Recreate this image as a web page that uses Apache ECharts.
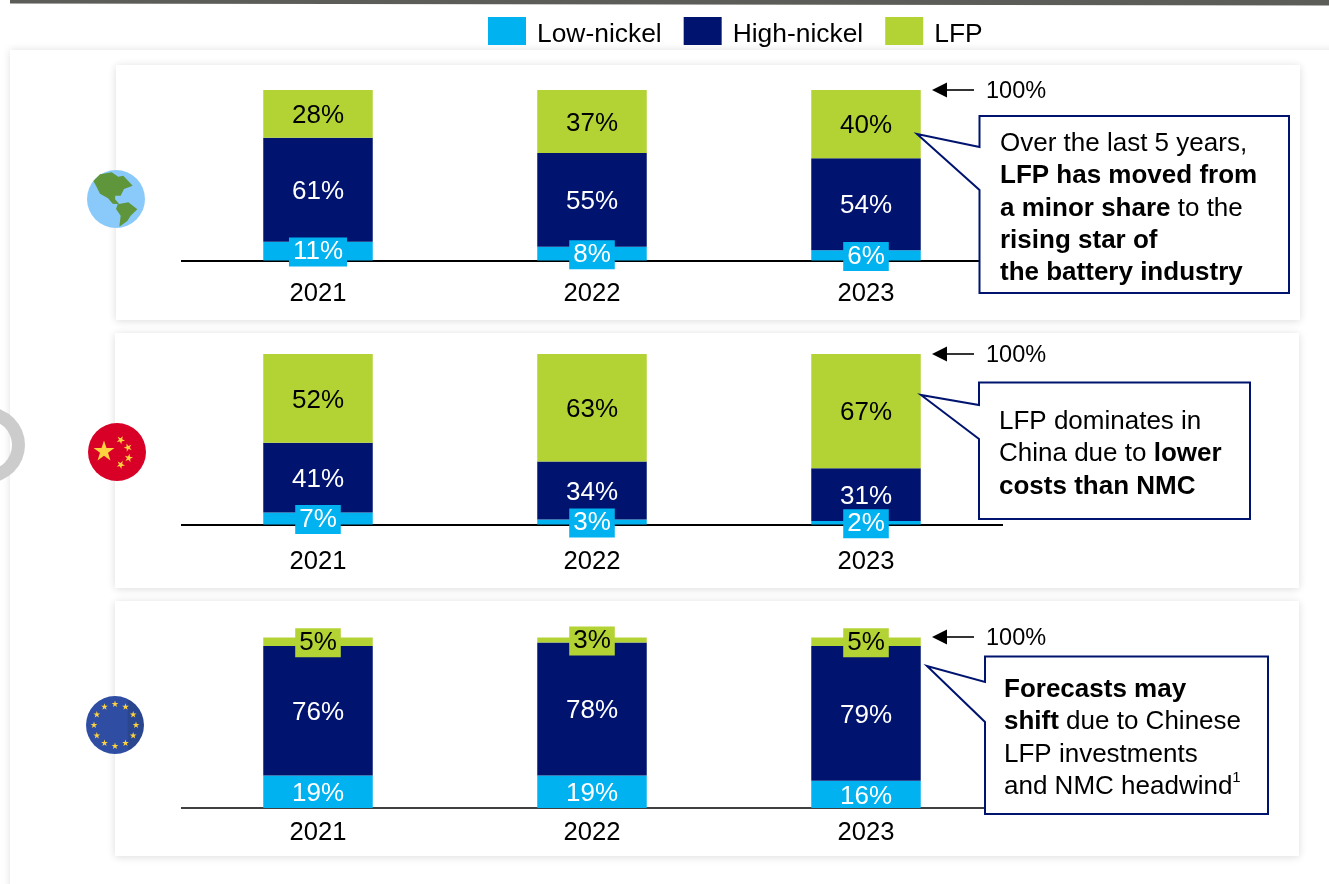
<!DOCTYPE html>
<html>
<head>
<meta charset="utf-8">
<style>html,body{margin:0;padding:0;background:#fff}#chart{width:1329px;height:884px}</style>
<script src="https://cdn.jsdelivr.net/npm/echarts@6/dist/echarts.min.js"></script>
</head>
<body>
<div id="chart"></div>
<script>
const years = ['2021', '2022', '2023'];
const seriesNames = ['Low-nickel', 'High-nickel', 'LFP'];
const worldLow = [11, 8, 6];
const worldHigh = [61, 55, 54];
const worldLfp = [28, 37, 40];
const chinaLow = [7, 3, 2];
const chinaHigh = [41, 34, 31];
const chinaLfp = [52, 63, 67];
const europeLow = [19, 19, 16];
const europeHigh = [76, 78, 79];
const europeLfp = [5, 3, 5];
const totalLabel = '100%';
const noteWorld = 'Over the last 5 years,\n{b|LFP has moved from}\n{b|a minor share} to the\n{b|rising star of}\n{b|the battery industry}';
const noteChina = 'LFP dominates in\nChina due to {b|lower}\n{b|costs than NMC}';
const noteEurope = '{b|Forecasts may}\n{b|shift} due to Chinese\nLFP investments\nand NMC headwind{s|1}';

const FONT = '"Liberation Sans", Arial, sans-serif';
const CYAN = '#00B2F0', NAVY = '#00146F', GREEN = '#B3D335';
const colors = [CYAN, NAVY, GREEN];
const textColors = ['#fff', '#fff', '#000'];

const groups = [
  { low: worldLow, high: worldHigh, lfp: worldLfp, top: 90, margin: 20, lw: 2 },
  { low: chinaLow, high: chinaHigh, lfp: chinaLfp, top: 354, margin: 24, lw: 2 },
  { low: europeLow, high: europeHigh, lfp: europeLfp, top: 637.5, margin: 12, lw: 1.5 }
];
const H = 170.5;

const grid = [], xAxis = [], yAxis = [], series = [];
groups.forEach((g, i) => {
  grid.push({ left: 181, width: 822, top: g.top, height: H });
  xAxis.push({
    gridIndex: i, type: 'category', data: years,
    axisTick: { show: false },
    axisLine: { show: true, onZero: false, lineStyle: { color: '#000', width: g.lw, cap: 'butt' } },
    axisLabel: { color: '#000', fontSize: 25.6, fontFamily: FONT, margin: g.margin }
  });
  yAxis.push({ gridIndex: i, type: 'value', min: 0, max: 100, show: false, splitLine: { show: false } });
  [g.low, g.high, g.lfp].forEach((vals, k) => {
    series.push({
      name: seriesNames[k], type: 'bar', stack: 'g' + i, xAxisIndex: i, yAxisIndex: i,
      barWidth: 109.5, itemStyle: { color: colors[k] }, z: 3,
      data: vals.map(v => ({
        value: v,
        label: v <= 11
          ? { backgroundColor: colors[k], padding: [3, 4, 0, 4], lineHeight: 26, offset: [0, 1] }
          : { offset: [0, 2] }
      })),
      label: {
        show: true, position: 'inside', formatter: '{c}%', color: textColors[k],
        fontSize: 26, fontFamily: FONT
      }
    });
  });
});

function starPts(cx, cy, R, rot) {
  const pts = [];
  for (let i = 0; i < 10; i++) {
    const r = i % 2 ? R * 0.382 : R;
    const a = -Math.PI / 2 + (rot || 0) + i * Math.PI / 5;
    pts.push([cx + r * Math.cos(a), cy + r * Math.sin(a)]);
  }
  return pts;
}
function star(cx, cy, R, rot) {
  return { type: 'polygon', z: 6, shape: { points: starPts(cx, cy, R, rot) }, style: { fill: '#FFD23F' }, silent: true };
}
function panel(x, y, w, h) {
  return { type: 'rect', z: -5, shape: { x, y, width: w, height: h },
    style: { fill: '#fff', shadowBlur: 8, shadowColor: 'rgba(0,0,0,0.14)', shadowOffsetX: 0, shadowOffsetY: 1 }, silent: true };
}
function arrow(y) {
  return [
    { type: 'line', z: 5, shape: { x1: 945, y1: y, x2: 974, y2: y }, style: { stroke: '#000', lineWidth: 1.6 }, silent: true },
    { type: 'polygon', z: 5, shape: { points: [[932, y], [947, y - 7.5], [947, y + 7.5]] }, style: { fill: '#000' }, silent: true },
    { type: 'text', z: 5, x: 986, y: y + 2, style: { text: totalLabel, fill: '#000', font: '23.5px ' + FONT, textVerticalAlign: 'middle' }, silent: true }
  ];
}
function callout(x0, x1, y0, y1, tip, a0, a1) {
  return { type: 'polygon', z: 8, shape: { points: [[x0, y0], [x1, y0], [x1, y1], [x0, y1], [x0, a1], tip, [x0, a0]] },
    style: { fill: '#fff', stroke: NAVY, lineWidth: 2 }, silent: true };
}
function note(x, y, text) {
  return { type: 'text', z: 9, x, y, silent: true, style: {
    text, fill: '#000', font: '26px ' + FONT, lineHeight: 32.2,
    rich: {
      b: { font: 'bold 26px ' + FONT, fill: '#000', lineHeight: 32.2 },
      s: { font: '15px ' + FONT, fill: '#000', lineHeight: 32.2, verticalAlign: 'top' }
    }
  } };
}
function mapPts(pts) { return pts.map(p => [80 + p[0] / 3, 165 + p[1] / 3]); }

const euStars = [];
for (let i = 0; i < 12; i++) {
  const a = i * Math.PI / 6;
  euStars.push(star(115 + 21 * Math.sin(a), 725 - 21 * Math.cos(a), 3.6));
}

const elements = [
  { type: 'polygon', z: -8, shape: { points: [[10, 0], [1329, 0], [1329, 5.5], [10, 3.5]] }, style: { fill: '#5C5C58' }, silent: true },
  { type: 'rect', z: -7, shape: { x: 10, y: 50, width: 1400, height: 900 },
    style: { fill: '#fff', shadowBlur: 8, shadowColor: 'rgba(0,0,0,0.12)' }, silent: true },
  { type: 'ring', z: -6, shape: { cx: -13, cy: 445, r: 38, r0: 25 }, style: { fill: '#CCCCCC' }, silent: true },
  panel(116, 65, 1184, 255),
  panel(115, 333, 1184, 255),
  panel(115, 601, 1184, 255),
  { type: 'circle', z: 5, shape: { cx: 116, cy: 199, r: 29 }, style: { fill: '#8ACAFB' }, silent: true },
  { type: 'polygon', z: 6, shape: { points: mapPts([[40,48],[60,28],[95,22],[115,35],[130,32],[158,62],[132,72],[122,92],[106,92],[105,102],[118,118],[98,116],[84,100],[60,86],[48,62]]) }, style: { fill: '#5F963B' }, silent: true },
  { type: 'polygon', z: 6, shape: { points: mapPts([[113,118],[145,112],[172,133],[152,152],[142,168],[118,185],[122,152],[108,132]]) }, style: { fill: '#5F963B' }, silent: true },
  { type: 'circle', z: 5, shape: { cx: 117, cy: 452, r: 29 }, style: { fill: '#D80027' }, silent: true },
  star(104, 451.5, 11),
  star(120.7, 440, 4.4, 0.5),
  star(128, 447.5, 4.4, 0.9),
  star(128.7, 458, 4.4, 0.2),
  star(120.7, 464.7, 4.4, 0.5),
  { type: 'circle', z: 5, shape: { cx: 115, cy: 725, r: 29 }, style: { fill: {
    type: 'linear', x: 0, y: 0, x2: 1, y2: 0,
    colorStops: [{ offset: 0, color: '#2E4DA3' }, { offset: 0.71, color: '#2E4DA3' }, { offset: 0.73, color: '#29468F' }, { offset: 1, color: '#29468F' }]
  } }, silent: true },
  ...euStars,
  ...arrow(90), ...arrow(354), ...arrow(637),
  callout(979.5, 1289, 116, 293, [917, 134], 147, 190),
  callout(979, 1250, 382.5, 519, [921, 395], 405, 439),
  callout(985, 1268, 656.5, 814, [927, 666], 682, 722),
  note(1000, 128, noteWorld),
  note(999, 406, noteChina),
  note(1004, 674, noteEurope)
];

const chart = echarts.init(document.getElementById('chart'), null, { renderer: 'canvas' });
chart.setOption({
  animation: false,
  backgroundColor: '#fff',
  legend: {
    left: 488, top: 14, padding: 0, itemWidth: 38, itemHeight: 28, itemGap: 22, icon: 'rect',
    data: seriesNames, selectedMode: false,
    formatter: '{t|{name}}',
    textStyle: {
      fontSize: 26.4, color: '#000', fontFamily: FONT, padding: [0, 0, 0, 6],
      rich: { t: { fontSize: 26.4, color: '#000', fontFamily: FONT, lineHeight: 28, padding: [8, 0, 0, 0] } }
    }
  },
  grid, xAxis, yAxis, series,
  graphic: { elements }
});
</script>
</body>
</html>
